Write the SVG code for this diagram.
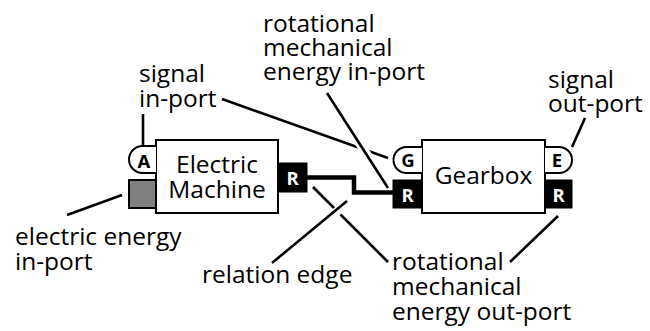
<svg xmlns="http://www.w3.org/2000/svg" width="650" height="331" viewBox="0 0 650 331">
<style>
.lbl{font-family:"Open Sans","Liberation Sans",sans-serif;font-size:24.5px;fill:#000}
.pt{font-family:"Open Sans","Liberation Sans",sans-serif;font-size:18.5px;font-weight:bold;text-anchor:middle}
.box{fill:#fff;stroke:#000;stroke-width:2}
.rp{fill:#000;stroke:#000;stroke-width:1}
.lead{stroke:#000;stroke-width:2.6;fill:none}
.halo{stroke:#fff;stroke-width:9;fill:none}
</style>
<rect width="650" height="331" fill="#fff"/>
<g id="connectors">
<line class="lead" x1="143" y1="114" x2="143" y2="146"/>
<line class="lead" x1="222" y1="99" x2="388" y2="158"/>
<line class="halo" x1="335" y1="105" x2="380" y2="175"/>
<line class="lead" x1="327" y1="93" x2="388" y2="188"/>
<line class="lead" x1="585" y1="118" x2="572" y2="147"/>
<line class="lead" x1="67" y1="215" x2="122" y2="195"/>
<line class="lead" x1="313" y1="187" x2="388" y2="262"/>
<line class="halo" x1="285" y1="254" x2="340" y2="209"/>
<line class="lead" x1="272" y1="263" x2="347" y2="201"/>
<line class="lead" x1="510" y1="262" x2="558" y2="216"/>
<polyline id="relation-edge" points="307,177.5 354,177.5 354,192.5 394,192.5" fill="none" stroke="#000" stroke-width="4.5"/>
</g>
<g id="electric-machine">
<rect class="box" x="156" y="140" width="122" height="73"/>
<text class="lbl" text-anchor="middle"><tspan x="217" y="173">Electric</tspan><tspan x="217" y="198">Machine</tspan></text>
</g>
<g id="port-a">
<path class="box" d="M156,146 H142.5 A13.5,13.5 0 0 0 142.5,173 H156"/>
<text class="pt" x="144" y="168">A</text>
</g>
<g id="port-electric">
<rect x="129" y="180" width="27" height="28" fill="#808080" stroke="#000" stroke-width="2"/>
</g>
<g id="port-r-em">
<rect class="rp" x="278" y="163" width="29" height="29"/>
<text class="pt" x="292.5" y="185" fill="#fff">R</text>
</g>
<g id="gearbox">
<rect class="box" x="422" y="140" width="123" height="73"/>
<text class="lbl" x="483.5" y="184" text-anchor="middle">Gearbox</text>
</g>
<g id="port-g">
<path class="box" d="M422,147 H406.5 A13,13 0 0 0 406.5,173 H422"/>
<text class="pt" x="408" y="167">G</text>
</g>
<g id="port-r-gb-in">
<rect class="rp" x="393" y="180" width="29" height="28"/>
<text class="pt" x="407.5" y="202" fill="#fff">R</text>
</g>
<g id="port-e">
<path class="box" d="M545,147 H559 A13,13 0 0 1 559,173 H545"/>
<text class="pt" x="557" y="167">E</text>
</g>
<g id="port-r-gb-out">
<rect class="rp" x="545" y="180" width="27" height="28"/>
<text class="pt" x="558.5" y="202" fill="#fff">R</text>
</g>
<g id="labels">
<text class="lbl"><tspan x="139" y="82">signal</tspan><tspan x="139" y="107">in-port</tspan></text>
<text class="lbl"><tspan x="263" y="32">rotational</tspan><tspan x="263" y="56">mechanical</tspan><tspan x="263" y="80">energy in-port</tspan></text>
<text class="lbl"><tspan x="548" y="88">signal</tspan><tspan x="548" y="112">out-port</tspan></text>
<text class="lbl"><tspan x="15" y="245">electric energy</tspan><tspan x="15" y="270">in-port</tspan></text>
<text class="lbl" x="202" y="283">relation edge</text>
<text class="lbl"><tspan x="392" y="270">rotational</tspan><tspan x="392" y="295">mechanical</tspan><tspan x="392" y="320">energy out-port</tspan></text>
</g>
</svg>
